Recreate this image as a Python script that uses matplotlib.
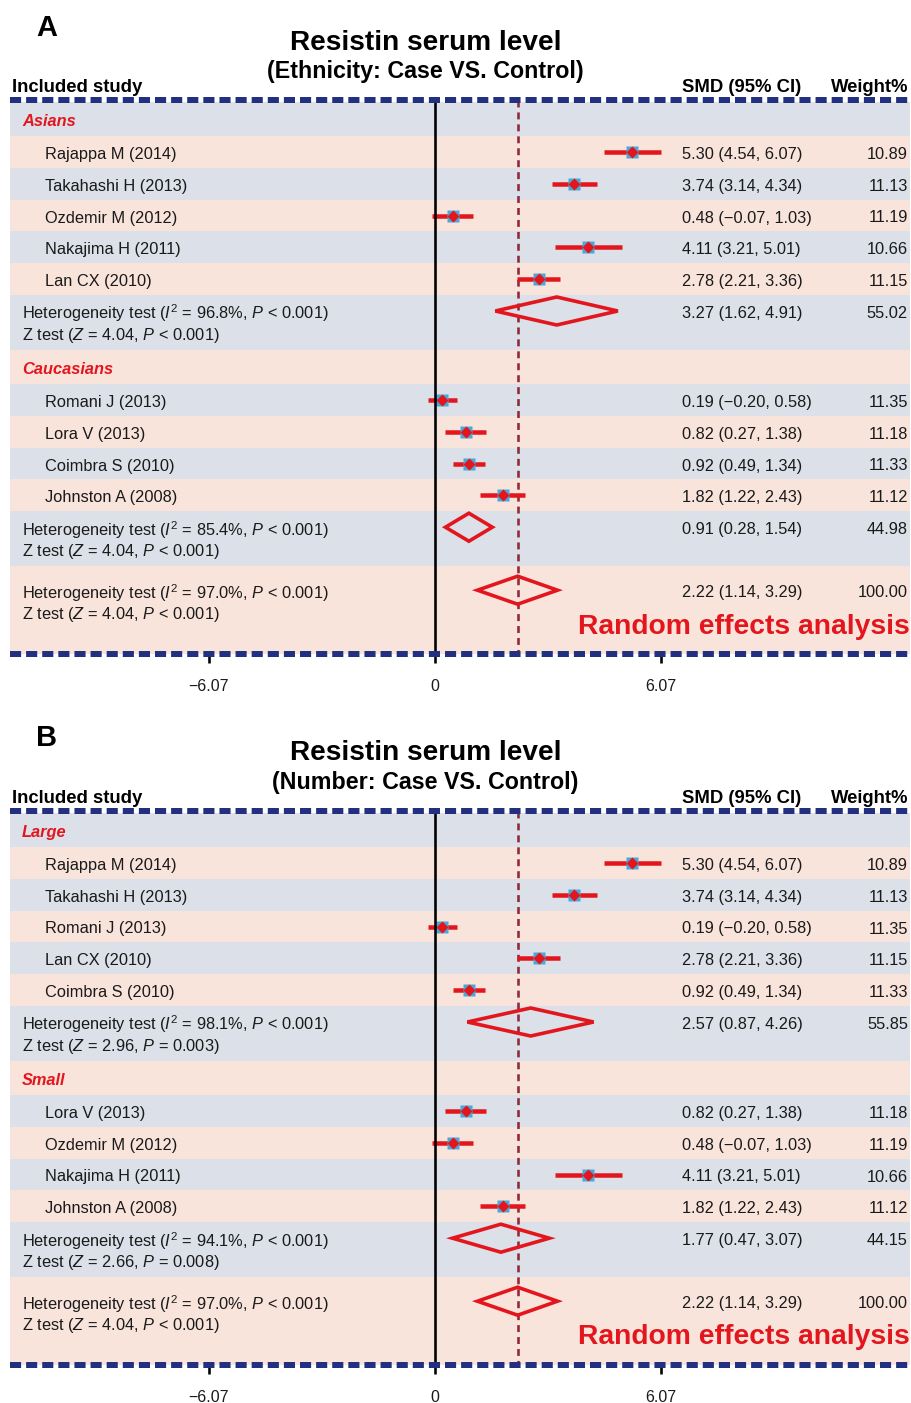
import matplotlib
matplotlib.use('Agg')
import matplotlib.pyplot as plt
from matplotlib.patches import Polygon
import matplotlib.transforms as mtrans

plt.rcParams['font.family'] = ['Liberation Sans', 'DejaVu Sans']
plt.rcParams['mathtext.fontset'] = 'custom'
plt.rcParams['mathtext.rm'] = 'Liberation Sans'
plt.rcParams['mathtext.it'] = 'Liberation Sans:italic'
plt.rcParams['mathtext.bf'] = 'Liberation Sans:bold'
plt.rcParams['lines.scale_dashes'] = False

# ---------------- DATA ----------------
# Panel A : Ethnicity
a_g1_name = 'Asians'
a_g1_studies = ['Rajappa M (2014)', 'Takahashi H (2013)', 'Ozdemir M (2012)', 'Nakajima H (2011)', 'Lan CX (2010)']
a_g1_smd = [5.30, 3.74, 0.48, 4.11, 2.78]
a_g1_lo = [4.54, 3.14, -0.07, 3.21, 2.21]
a_g1_hi = [6.07, 4.34, 1.03, 5.01, 3.36]
a_g1_w = [10.89, 11.13, 11.19, 10.66, 11.15]
a_g1_pool = [3.27, 1.62, 4.91, 55.02]
a_g1_stats = ['96.8%', '< 0.001', '4.04', '< 0.001']

a_g2_name = 'Caucasians'
a_g2_studies = ['Romani J (2013)', 'Lora V (2013)', 'Coimbra S (2010)', 'Johnston A (2008)']
a_g2_smd = [0.19, 0.82, 0.92, 1.82]
a_g2_lo = [-0.20, 0.27, 0.49, 1.22]
a_g2_hi = [0.58, 1.38, 1.34, 2.43]
a_g2_w = [11.35, 11.18, 11.33, 11.12]
a_g2_pool = [0.91, 0.28, 1.54, 44.98]
a_g2_stats = ['85.4%', '< 0.001', '4.04', '< 0.001']

# Panel B : Number
b_g1_name = 'Large'
b_g1_studies = ['Rajappa M (2014)', 'Takahashi H (2013)', 'Romani J (2013)', 'Lan CX (2010)', 'Coimbra S (2010)']
b_g1_smd = [5.30, 3.74, 0.19, 2.78, 0.92]
b_g1_lo = [4.54, 3.14, -0.20, 2.21, 0.49]
b_g1_hi = [6.07, 4.34, 0.58, 3.36, 1.34]
b_g1_w = [10.89, 11.13, 11.35, 11.15, 11.33]
b_g1_pool = [2.57, 0.87, 4.26, 55.85]
b_g1_stats = ['98.1%', '< 0.001', '2.96', '= 0.003']

b_g2_name = 'Small'
b_g2_studies = ['Lora V (2013)', 'Ozdemir M (2012)', 'Nakajima H (2011)', 'Johnston A (2008)']
b_g2_smd = [0.82, 0.48, 4.11, 1.82]
b_g2_lo = [0.27, -0.07, 3.21, 1.22]
b_g2_hi = [1.38, 1.03, 5.01, 2.43]
b_g2_w = [11.18, 11.19, 10.66, 11.12]
b_g2_pool = [1.77, 0.47, 3.07, 44.15]
b_g2_stats = ['94.1%', '< 0.001', '2.66', '= 0.008']

overall_pool = [2.22, 1.14, 3.29, 100.00]
overall_stats = ['97.0%', '< 0.001', '4.04', '< 0.001']

axis_ticks = [-6.07, 0, 6.07]
tick_labels = ['\u22126.07', '0', '6.07']

# ---------------- STYLE ----------------
W, H = 912, 1403
PINK = '#F9E4DC'
BLUE = '#DCE0E8'
NAVY = '#23307F'
RED = '#E3161E'
SQ = '#4AA8D8'
DRED = '#8E2A3A'
TXT = '#1A1A1A'

PX = 0.72  # px -> pt at dpi 100
scale = 226 / 6.07  # px per SMD unit
X0 = 435  # pixel of zero
DY = 2.5  # text baseline tweak

fig = plt.figure(figsize=(W / 100, H / 100), dpi=100)
fig.patch.set_facecolor('white')


def fmt(v):
    return f'{v:.2f}'.replace('-', '\u2212')


def ci_text(s, l, h):
    return f'{fmt(s)} ({fmt(l)}, {fmt(h)})'


def draw_panel(top, letter, subtitle, groups, overall):
    ph = 692
    ax = fig.add_axes([0, 1 - (top + ph) / H, 1, ph / H])
    ax.set_xlim((0 - X0) / scale, (W - X0) / scale)
    ax.set_ylim(ph, 0)
    ax.axis('off')
    tr = mtrans.blended_transform_factory(ax.transAxes, ax.transData)

    def txt(px, py, s, **kw):
        kw.setdefault('color', TXT)
        kw.setdefault('va', 'center')
        ax.text(px / W, py + DY, s, transform=tr, **kw)

    txt(47, 25, letter, fontsize=29 * PX, fontweight='bold', ha='center', color='black')
    txt(426, 40, 'Resistin serum level', fontsize=28 * PX, fontweight='bold', ha='center', color='black')
    txt(425, 69, subtitle, fontsize=23.3 * PX, fontweight='bold', ha='center', color='black')
    txt(12, 85, 'Included study', fontsize=18.5 * PX, fontweight='bold', color='black')
    txt(682, 85, 'SMD (95% CI)', fontsize=18.5 * PX, fontweight='bold', color='black')
    txt(908, 85, 'Weight%', fontsize=18.5 * PX, fontweight='bold', ha='right', color='black')

    fs = 16.4 * PX
    y = 102
    shade = [BLUE, PINK]
    k = 0

    def band(y0, h):
        nonlocal k
        ax.axhspan(y0, y0 + h, xmin=10 / W, xmax=910 / W, color=shade[k % 2], lw=0, zorder=0)
        k += 1

    def pooled(yc, p, stats):
        s, l, h, w = p
        poly = Polygon([(l, yc), (s, yc - 14), (h, yc), (s, yc + 14)], closed=True,
                       fill=False, edgecolor=RED, lw=3.6 * PX, joinstyle='miter', zorder=4)
        ax.add_patch(poly)
        txt(22, yc, f'Heterogeneity test ($I^2$ = {stats[0]}, $P$ {stats[1]})', fontsize=fs)
        txt(22, yc + 22, f'Z test ($Z$ = {stats[2]}, $P$ {stats[3]})', fontsize=fs)
        txt(682, yc, ci_text(s, l, h), fontsize=fs)
        txt(908, yc, f'{w:.2f}', fontsize=fs, ha='right')

    for gname, studies, smd, lo, hi, wt, pool, stats in groups:
        hh = 34
        band(y, hh)
        txt(22, y + hh / 2, gname, fontsize=fs, fontweight='bold', style='italic', color=RED)
        y += hh
        sh = 31.8
        for i in range(len(studies)):
            band(y, sh)
            yc = y + sh / 2
            ax.hlines(yc, lo[i], hi[i], color=RED, lw=4.5 * PX, zorder=3)
            ax.plot(smd[i], yc, marker='s', ms=12 * PX, color=SQ, mec='none', zorder=4)
            ax.plot(smd[i], yc, marker='D', ms=8 * PX, color=RED, mec='none', zorder=5)
            txt(45, yc, studies[i], fontsize=fs)
            txt(682, yc, ci_text(smd[i], lo[i], hi[i]), fontsize=fs)
            txt(908, yc, f'{wt[i]:.2f}', fontsize=fs, ha='right')
            y += sh
        band(y, 55)
        pooled(y + 16, pool, stats)
        y += 55

    band(y, 654 - y)
    pooled(y + 24, overall[0], overall[1])
    txt(910, 624, 'Random effects analysis', fontsize=28.3 * PX, fontweight='bold', ha='right', color=RED)

    # zero line and pooled estimate line
    ax.vlines(0, 100, 663, color='black', lw=2.6 * PX, zorder=6)
    ax.vlines(overall[0][0], 100, 654, color=DRED, lw=2.6 * PX, linestyles=(0, (5, 3.6)), zorder=2)

    # dashed borders
    for yy in (100, 654):
        ax.plot([10 / W, 910 / W], [yy, yy], transform=tr, color=NAVY, lw=6 * PX,
                dashes=(8, 3.6), solid_capstyle='butt', dash_capstyle='butt', zorder=7)

    # ticks
    for t, lab in zip(axis_ticks, tick_labels):
        if t != 0:
            ax.vlines(t, 654, 663, color='black', lw=2.6 * PX, zorder=6)
        ax.text(t, 684 + DY, lab, ha='center', va='center', fontsize=16 * PX, color=TXT)


groups_A = [
    (a_g1_name, a_g1_studies, a_g1_smd, a_g1_lo, a_g1_hi, a_g1_w, a_g1_pool, a_g1_stats),
    (a_g2_name, a_g2_studies, a_g2_smd, a_g2_lo, a_g2_hi, a_g2_w, a_g2_pool, a_g2_stats),
]
groups_B = [
    (b_g1_name, b_g1_studies, b_g1_smd, b_g1_lo, b_g1_hi, b_g1_w, b_g1_pool, b_g1_stats),
    (b_g2_name, b_g2_studies, b_g2_smd, b_g2_lo, b_g2_hi, b_g2_w, b_g2_pool, b_g2_stats),
]

draw_panel(0, 'A', '(Ethnicity: Case VS. Control)', groups_A, (overall_pool, overall_stats))
draw_panel(711, 'B', '(Number: Case VS. Control)', groups_B, (overall_pool, overall_stats))

fig.savefig('out.png', dpi=100, facecolor='white')
